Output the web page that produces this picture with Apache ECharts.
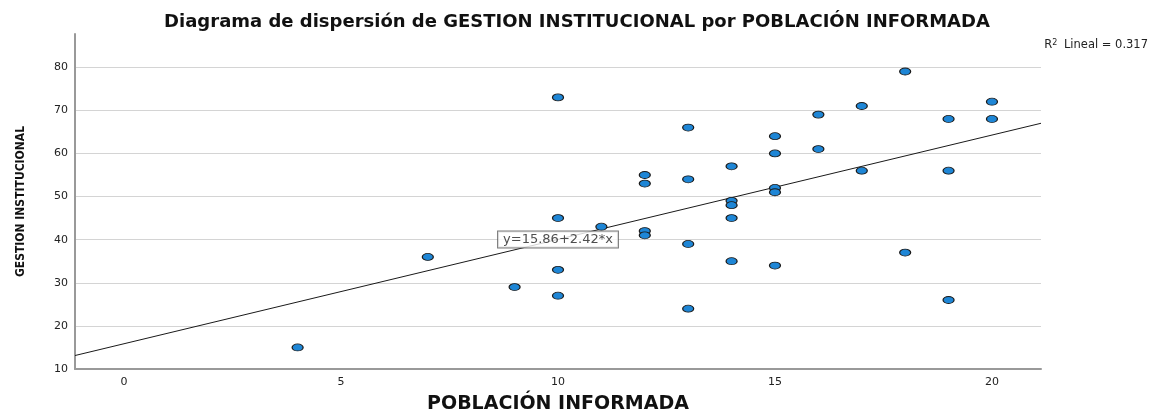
<!DOCTYPE html>
<html>
<head>
<meta charset="utf-8">
<script src="https://cdn.jsdelivr.net/npm/echarts@6/dist/echarts.min.js"></script>
<style>
    html, body { margin: 0; padding: 0; background: #fff; }
    #chart { width: 1155px; height: 410px; }
</style>
</head>
<body>
<div id="chart"></div>
<script>
// POBLACIÓN INFORMADA (x) y GESTION INSTITUCIONAL (y)
var xValues = [4, 7, 9, 10, 10, 10, 10, 11, 12, 12, 12, 12, 13, 13, 13, 13, 14, 14, 14, 14, 14,
               15, 15, 15, 15, 15, 16, 16, 17, 17, 18, 18, 19, 19, 19, 20, 20];
var yValues = [15, 36, 29, 73, 45, 33, 27, 43, 55, 53, 42, 41, 66, 54, 39, 24, 57, 49, 48, 45, 35,
               64, 60, 52, 51, 34, 69, 61, 71, 56, 79, 37, 68, 56, 26, 72, 68];
var xTicks = [0, 5, 10, 15, 20];
var yTicks = [10, 20, 30, 40, 50, 60, 70, 80];
var intercept = 15.86;
var slope = 2.42;
var r2 = '0.317';
var xRange = [-1.13, 21.13];
var yRange = [10, 87.7];

function fit(x) {
    return intercept + slope * x;
}

var points = [];
for (var i = 0; i < xValues.length; i++) {
    points.push([xValues[i], yValues[i]]);
}
var lineData = [[xRange[0], fit(xRange[0])], [xRange[1], fit(xRange[1])]];
var eqX = 10;

var ellipse = 'path://M0 1A1 1 0 1 0 2 1A1 1 0 1 0 0 1Z';

var option = {
    animation: false,
    backgroundColor: '#fff',
    title: [
        {
            text: 'Diagrama de dispersión de GESTION INSTITUCIONAL por POBLACIÓN INFORMADA',
            left: 572,
            textAlign: 'center',
            top: 8,
            textStyle: {
                fontFamily: 'DejaVu Sans',
                fontWeight: 'bold',
                fontSize: 18,
                color: '#111'
            }
        },
        {
            text: 'R{sup|2} Lineal = ' + r2,
            right: 2,
            top: 34,
            textStyle: {
                fontFamily: 'DejaVu Sans',
                fontWeight: 'normal',
                fontSize: 11.5,
                color: '#222',
                rich: {
                    sup: {
                        fontFamily: 'DejaVu Sans',
                        fontSize: 8,
                        verticalAlign: 'top',
                        padding: [0, 3, 5, 0],
                        color: '#222'
                    }
                }
            }
        }
    ],
    grid: {
        left: 75,
        right: 114,
        top: 34,
        bottom: 41,
        outerBoundsMode: 'none'
    },
    xAxis: {
        type: 'value',
        min: xRange[0],
        max: xRange[1],
        name: 'POBLACIÓN INFORMADA',
        nameLocation: 'middle',
        nameGap: 26,
        nameTextStyle: {
            fontFamily: 'DejaVu Sans',
            fontWeight: 'bold',
            fontSize: 19,
            color: '#111'
        },
        axisLine: { show: true, onZero: false, lineStyle: { color: '#999', width: 2 } },
        axisTick: { show: false, customValues: xTicks },
        axisLabel: {
            customValues: xTicks,
            margin: 8,
            fontFamily: 'DejaVu Sans',
            fontSize: 11,
            color: '#222'
        },
        splitLine: { show: false }
    },
    yAxis: {
        type: 'value',
        min: yRange[0],
        max: yRange[1],
        name: 'GESTION INSTITUCIONAL',
        nameLocation: 'middle',
        nameGap: 48,
        nameTextStyle: {
            fontFamily: "'Liberation Sans Narrow', 'DejaVu Sans Condensed', sans-serif",
            fontWeight: 'bold',
            fontSize: 12,
            color: '#111'
        },
        axisLine: { show: true, onZero: false, lineStyle: { color: '#999', width: 2 } },
        axisTick: { show: false, customValues: yTicks },
        axisLabel: {
            customValues: yTicks,
            margin: 7,
            fontFamily: 'DejaVu Sans',
            fontSize: 11,
            color: '#222'
        },
        splitLine: { show: true, lineStyle: { color: '#d4d4d4', width: 1 } }
    },
    series: [
        {
            type: 'line',
            data: lineData,
            showSymbol: false,
            symbol: 'none',
            lineStyle: { color: '#1a1a1a', width: 1 },
            z: 2
        },
        {
            type: 'scatter',
            data: points,
            symbol: ellipse,
            symbolSize: [11, 7],
            itemStyle: {
                color: '#1e86d6',
                borderColor: '#1a1a1a',
                borderWidth: 1,
                opacity: 1
            },
            z: 3
        },
        {
            type: 'scatter',
            data: [[eqX, fit(eqX)]],
            symbolSize: 0,
            silent: true,
            label: {
                show: true,
                position: 'inside',
                formatter: 'y=15.86+2.42*x',
                fontFamily: 'DejaVu Sans',
                fontSize: 13,
                color: '#222',
                backgroundColor: '#fff',
                borderColor: '#555',
                borderWidth: 1,
                padding: [2, 5, 1, 5]
            },
            z: 4
        }
    ]
};

var chart = echarts.init(document.getElementById('chart'));
chart.setOption(option);
</script>
</body>
</html>
